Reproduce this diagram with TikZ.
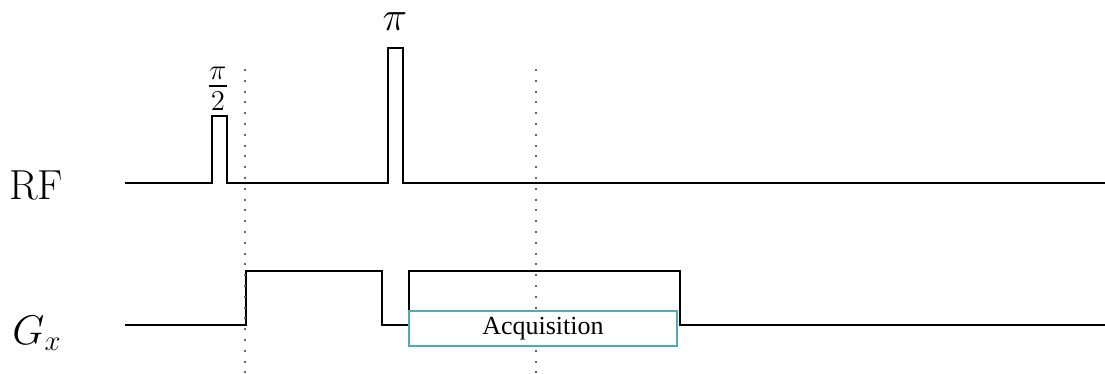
\documentclass[tikz,border=0pt]{standalone}
\usepackage{amsmath}
\usepackage{amssymb}
\usepackage{fontspec}
\newfontfamily\acqfont{Liberation Serif}
\usepackage{tikz}
\definecolor{acqcol}{RGB}{72,176,178}

\begin{document}
\begin{tikzpicture}[x=0.5pt,y=0.5pt,auto=center]
			\useasboundingbox (0,0) rectangle (1105,374);
			\node[inner sep=0pt] (rflabel) at (36,188) {\fontsize{21}{24}\selectfont $\mathrm{RF}$};
			\node[inner sep=0pt] (gxlabel) at (37,41) {\fontsize{20.5}{24}\selectfont $G_x$};
			\node[inner sep=0pt] (halfpi) at (218,285) {\fontsize{20.5}{24}\selectfont $\frac{\pi}{2}$};
			\node[inner sep=0pt] (fullpi) at (395,352) {\fontsize{20.5}{24}\selectfont $\pi$};
			\draw [line width=1pt] (125,191) -- (212,191) -- (212,258) -- (227,258) -- (227,191) -- (388,191) -- (388,326) -- (403,326) -- (403,191) -- (1105,191);
			\draw [line width=1pt] (125,49) -- (246,49) -- (246,103) -- (382,103) -- (382,49) -- (409,49) -- (409,103) -- (680,103) -- (680,49) -- (1105,49);
			\draw [black!60, line width=1.1pt, dash pattern=on 1pt off 4.4pt] (245,305) -- (245,0);
			\draw [black!60, line width=1.1pt, dash pattern=on 1pt off 4.4pt] (536,305) -- (536,0);
			\draw [acqcol, line width=0.8pt, fill=white] (409,63) rectangle (677,28);
			\node (acq) at (543,45.5) {\acqfont\fontsize{13}{15}\selectfont Acquisition};
		\end{tikzpicture}
\end{document}
